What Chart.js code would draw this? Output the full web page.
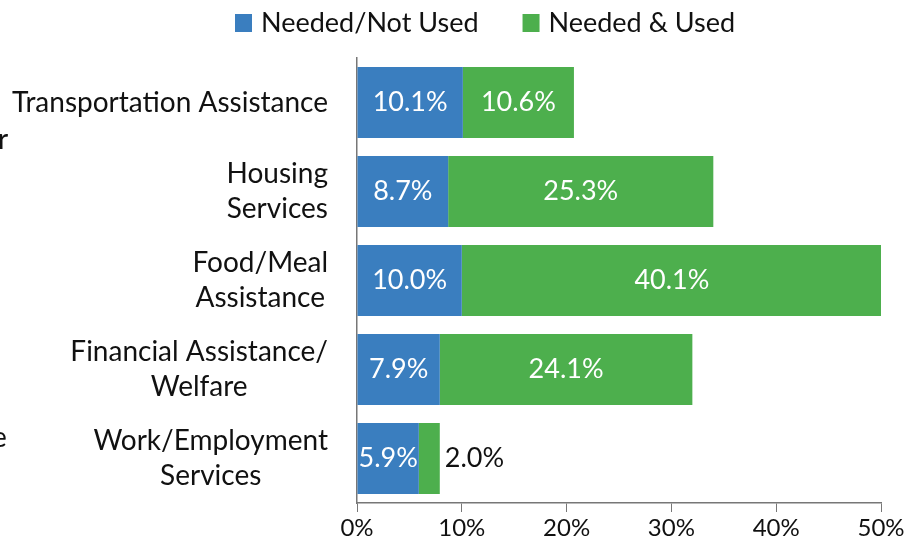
<!DOCTYPE html>
<html lang="en">
<head>
    <meta charset="UTF-8">
    <title>Needed services</title>
    <script src="https://cdn.jsdelivr.net/npm/chart.js"></script>
    <style>
        html, body { margin: 0; padding: 0; background: #fff; }
        #wrap { width: 921px; height: 548px; }
    </style>
</head>
<body>
    <div id="wrap"><canvas id="servicesChart"></canvas></div>

    <script>
        // Data
        const categories = [
            ['Transportation Assistance'],
            ['Housing', 'Services'],
            ['Food/Meal', 'Assistance'],
            ['Financial Assistance/', 'Welfare'],
            ['Work/Employment', 'Services']
        ];
        const neededNotUsed = [10.1, 8.7, 10.0, 7.9, 5.9];
        const neededUsed = [10.6, 25.3, 40.1, 24.1, 2.0];
        const xTicks = [0, 10, 20, 30, 40, 50];

        const FONT = 'Lato, "Open Sans", sans-serif';
        const BLUE = '#3A7EBF';
        const GREEN = '#4DAF4D';

        // legend drawn by hand so box/text spacing matches
        const topLegend = {
            id: 'topLegend',
            afterDraw(chart) {
                const ctx = chart.ctx;
                ctx.save();
                ctx.font = '27px ' + FONT;
                ctx.textBaseline = 'middle';
                ctx.textAlign = 'left';
                let x = 235;
                chart.data.datasets.forEach(ds => {
                    ctx.fillStyle = ds.backgroundColor;
                    ctx.fillRect(x, 14, 17, 18);
                    ctx.fillStyle = '#111';
                    ctx.fillText(ds.label, x + 26, 23);
                    x += 26 + ctx.measureText(ds.label).width + 44;
                });
                ctx.restore();
            }
        };

        // draws category labels (lines centred on each other, block right aligned)
        const categoryLabels = {
            id: 'categoryLabels',
            afterDraw(chart) {
                const ctx = chart.ctx;
                const yScale = chart.scales.y;
                const right = chart.chartArea.left - 29;
                ctx.save();
                ctx.font = '28px ' + FONT;
                ctx.fillStyle = '#111';
                ctx.textAlign = 'center';
                ctx.textBaseline = 'middle';
                categories.forEach((lines, i) => {
                    const cy = yScale.getPixelForValue(i);
                    const w = Math.max(...lines.map(l => ctx.measureText(l).width));
                    const cx = right - w / 2;
                    const lh = 35;
                    const y0 = cy - (lines.length - 1) * lh / 2;
                    lines.forEach((l, j) => ctx.fillText(l, cx, y0 + j * lh));
                });
                // cut-off letters at the left edge of the original picture
                ctx.textAlign = 'left';
                ctx.fillText('r', -2, 140);
                ctx.fillText('e', -8, 438);
                ctx.restore();
            }
        };

        // value labels inside bars, outside if the bar is too thin
        const valueLabels = {
            id: 'valueLabels',
            afterDatasetsDraw(chart) {
                const ctx = chart.ctx;
                ctx.save();
                ctx.font = '27px ' + FONT;
                ctx.textBaseline = 'middle';
                chart.data.datasets.forEach((ds, di) => {
                    chart.getDatasetMeta(di).data.forEach((bar, i) => {
                        const txt = ds.data[i].toFixed(1) + '%';
                        const len = Math.abs(bar.x - bar.base);
                        if (len > ctx.measureText(txt).width * 0.8) {
                            ctx.fillStyle = '#fff';
                            ctx.textAlign = 'center';
                            ctx.fillText(txt, (bar.x + bar.base) / 2, bar.y);
                        } else {
                            ctx.fillStyle = '#111';
                            ctx.textAlign = 'left';
                            ctx.fillText(txt, bar.x + 5, bar.y);
                        }
                    });
                });
                ctx.restore();
            }
        };

        new Chart(document.getElementById('servicesChart'), {
            type: 'bar',
            data: {
                labels: categories,
                datasets: [{
                    label: 'Needed/Not Used',
                    data: neededNotUsed,
                    backgroundColor: BLUE
                }, {
                    label: 'Needed & Used',
                    data: neededUsed,
                    backgroundColor: GREEN
                }]
            },
            options: {
                indexAxis: 'y',
                responsive: true,
                maintainAspectRatio: false,
                animation: false,
                barPercentage: 0.8,
                categoryPercentage: 1,
                layout: { padding: { top: 58, right: 40, left: 0, bottom: 0 } },
                plugins: {
                    tooltip: { enabled: false },
                    legend: { display: false }
                },
                scales: {
                    x: {
                        stacked: true,
                        min: 0,
                        max: 50,
                        afterBuildTicks(scale) {
                            scale.ticks = xTicks.map(v => ({ value: v }));
                        },
                        afterFit(scale) { scale.height = 45; },
                        ticks: {
                            color: '#111',
                            font: { family: FONT, size: 24 },
                            padding: 2,
                            callback: v => v + '%'
                        },
                        grid: { drawOnChartArea: false, tickLength: 9, color: '#777' },
                        border: { color: '#777', width: 1.5 }
                    },
                    y: {
                        stacked: true,
                        afterFit(scale) { scale.width = 357; },
                        ticks: { display: false },
                        grid: { display: false },
                        border: { color: '#777', width: 1.5 }
                    }
                }
            },
            plugins: [topLegend, categoryLabels, valueLabels]
        });
    </script>
</body>
</html>
